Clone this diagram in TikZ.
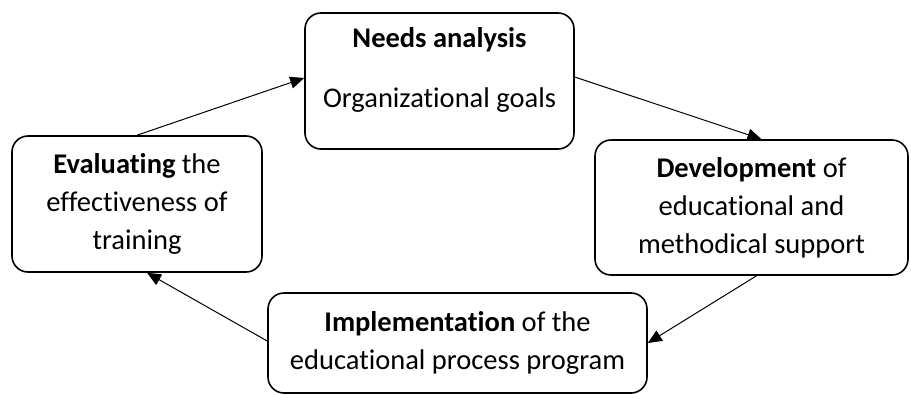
\documentclass[tikz,border=0pt]{standalone}
\usepackage{fontspec}
\setmainfont[Ligatures=NoCommon]{Carlito}
\usepackage{tikz}
\usetikzlibrary{arrows.meta,positioning}
\tikzset{
  box/.style={draw, line width=1.6pt, rounded corners=16pt, align=center,
  inner sep=0pt, font=\fontsize{28.5}{38}\selectfont},
  flow/.style={-{Triangle[length=14pt,width=12pt]}, line width=1pt}
}

\begin{document}
\begin{tikzpicture}[x=1pt,y=-1pt]
    \useasboundingbox (0,0) rectangle (911,394);
    \node (N) [box,minimum width=269pt,minimum height=136pt] at (439.5,81)
    {\textbf{Needs analysis}\\[22pt]Organizational goals\\[-22pt]\strut};
    \node (D) [box,minimum width=313pt,minimum height=135pt] at (751.5,207.5)
    {\textbf{Development} of\\educational and\\methodical support};
    \node (I) [box,minimum width=379pt,minimum height=100pt] at (457.5,343)
    {\textbf{Implementation} of the\\educational process program};
    \node (E) [box,minimum width=250pt,minimum height=136pt] at (137,204)
    {\textbf{Evaluating} the\\effectiveness of\\training};
%    cycle arrows
    \path (E.north) edge [flow] ([yshift=3pt]N.west);
    \path ([yshift=4pt]N.east) edge [flow] ([xshift=10pt]D.north);
    \path ([xshift=5pt]D.south) edge [flow] (I.east);
    \path ([yshift=2pt]I.west) edge [flow] ([xshift=10pt]E.south);
\end{tikzpicture}
\end{document}
